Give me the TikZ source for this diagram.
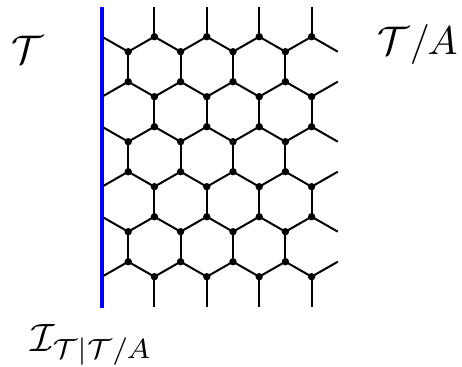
\documentclass[tikz,border=0pt]{standalone}
\begin{document}
\begin{tikzpicture}[x=1pt,y=-1pt,
  edge/.style={line width=2pt,black},
  wall/.style={line width=3.6pt,blue},
  dot/.style={circle,fill=black,inner sep=0pt,minimum size=7.4pt},
  lab/.style={inner sep=0pt,anchor=base west}]
\useasboundingbox (0,0) rectangle (462,366);
\def\dx{26.2}
% vertical edges
\foreach \m in {0,1,2}{
  \foreach \k in {0,1,2,3}{
    \draw[edge] ({102+\dx*(2*\k+1)},{51.7+90*\m}) -- ++(0,30);
  }
}
\foreach \m in {-1,0,1,2}{
  \foreach \k in {0,1,2,3}{
    \draw[edge] ({102+\dx*(2*\k+2)},{96.7+90*\m}) -- ++(0,30);
  }
}
% zigzag rows
\foreach \m in {0,1,2}{
  \draw[edge,line join=round] (102,{36.7+90*\m})
    \foreach \j in {0,...,3}{ -- ({102+\dx*(2*\j+1)},{51.7+90*\m}) -- ({102+\dx*(2*\j+2)},{36.7+90*\m}) }
    -- ({102+\dx*9},{51.7+90*\m});
  \draw[edge,line join=round] (102,{96.7+90*\m})
    \foreach \j in {0,...,3}{ -- ({102+\dx*(2*\j+1)},{81.7+90*\m}) -- ({102+\dx*(2*\j+2)},{96.7+90*\m}) }
    -- ({102+\dx*9},{81.7+90*\m});
}
% dots
\foreach \m in {0,1,2}{
  \foreach \k in {0,1,2,3}{
    \node[dot] (a\m\k u) at ({102+\dx*(2*\k+1)},{51.7+90*\m}) {};
    \node[dot] (a\m\k d) at ({102+\dx*(2*\k+1)},{81.7+90*\m}) {};
    \node[dot] (b\m\k u) at ({102+\dx*(2*\k+2)},{36.7+90*\m}) {};
    \node[dot] (b\m\k d) at ({102+\dx*(2*\k+2)},{96.7+90*\m}) {};
  }
}
% boundary
\coordinate (wt) at (102,6.7);
\coordinate (wb) at (102,308);
\draw[wall] (wt) -- (wb);
% labels
\node[lab,scale=4] (T) at (11,64) {$\mathcal{T}$};
\node[lab,scale=4] (TA) at (377,55) {$\mathcal{T}/A$};
\node[lab,scale=3.95] (I) at (30,351) {$\mathcal{I}_{\mathcal{T}|\mathcal{T}/A}$};
\end{tikzpicture}
\end{document}
